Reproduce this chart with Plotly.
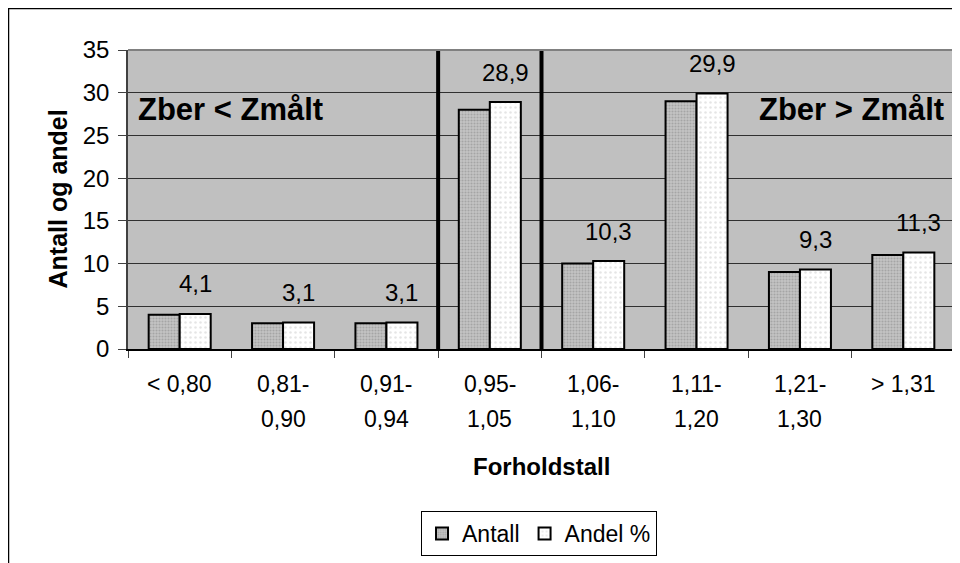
import plotly.graph_objects as go

# Chart data
categories = ["< 0,80", "0,81-1", "0,91-1", "0,95-1", "1,06-1", "1,11-1", "1,21-1", "> 1,31"]
label_line1 = ["< 0,80", "0,81-", "0,91-", "0,95-", "1,06-", "1,11-", "1,21-", "> 1,31"]
label_line2 = ["", "0,90", "0,94", "1,05", "1,10", "1,20", "1,30", ""]
antall = [4, 3, 3, 28, 10, 29, 9, 11]
andel = [4.1, 3.1, 3.1, 28.9, 10.3, 29.9, 9.3, 11.3]
andel_text = ["4,1", "3,1", "3,1", "28,9", "10,3", "29,9", "9,3", "11,3"]
divider_positions = [2.5, 3.5]

FONT = "Liberation Sans, Arial, sans-serif"

fig = go.Figure()

fig.add_trace(go.Bar(
    x=categories, y=antall, name="Antall",
    marker=dict(color="#b4b4b4", line=dict(color="black", width=2),
                pattern=dict(shape=".", fgcolor="#858585", bgcolor="#c4c4c4", size=3, solidity=0.4)),
))
fig.add_trace(go.Bar(
    x=categories, y=andel, name="Andel %",
    marker=dict(color="white", line=dict(color="black", width=2),
                pattern=dict(shape=".", fgcolor="#cccccc", bgcolor="white", size=5, solidity=0.2)),
))

annotations = []
# value labels above the Andel bars
for c, v, t in zip(categories, andel, andel_text):
    annotations.append(dict(x=c, y=v, text=t, showarrow=False, xshift=15.5, yshift=30,
                            yanchor="middle", font=dict(size=24, color="black")))
# two-line category labels
for c, l1, l2 in zip(categories, label_line1, label_line2):
    annotations.append(dict(x=c, y=0, xref="x", yref="paper", text=l1, showarrow=False,
                            yanchor="middle", yshift=-35, font=dict(size=23, color="black")))
    if l2:
        annotations.append(dict(x=c, y=0, xref="x", yref="paper", text=l2, showarrow=False,
                                yanchor="middle", yshift=-70, font=dict(size=23, color="black")))

annotations += [
    dict(x=0.5, y=0, xref="paper", yref="paper", text="<b>Forholdstall</b>", showarrow=False,
         yanchor="middle", yshift=-117, font=dict(size=24, color="black")),
    dict(x=0, y=0.5, xref="paper", yref="paper", text="<b>Antall og andel</b>", showarrow=False,
         textangle=-90, xanchor="center", xshift=-71, font=dict(size=25, color="black")),
    dict(x=0, y=28, xref="paper", yref="y", text="<b>Zber < Zmålt</b>", showarrow=False,
         xanchor="left", xshift=8, yanchor="middle", font=dict(size=31, color="black")),
    dict(x=1, y=28, xref="paper", yref="y", text="<b>Zber > Zmålt</b>", showarrow=False,
         xanchor="right", xshift=-9, yanchor="middle", font=dict(size=31, color="black")),
]

shapes = []
for p in divider_positions:
    shapes.append(dict(type="line", x0=p, x1=p, y0=0, y1=35, xref="x", yref="y",
                       line=dict(color="black", width=4), layer="above"))
# top and right border of plot area
shapes.append(dict(type="line", x0=0, x1=1, y0=1, y1=1, xref="paper", yref="paper",
                   line=dict(color="#808080", width=2)))
shapes.append(dict(type="line", x0=1, x1=1, y0=0, y1=1, xref="paper", yref="paper",
                   line=dict(color="#808080", width=2)))
# outer chart frame (left and top edges visible)
shapes.append(dict(type="rect", x0=-119.5 / 827, x1=1.2, y0=-0.8, y1=1 + 41.5 / 299,
                   xref="paper", yref="paper", line=dict(color="black", width=1.5)))

fig.update_layout(
    width=952, height=555,
    margin=dict(l=120, r=5, t=42, b=214),
    paper_bgcolor="white", plot_bgcolor="#c0c0c0",
    font=dict(family=FONT, size=23, color="black"),
    barmode="group", bargap=0.4, bargroupgap=0,
    showlegend=True,
    legend=dict(orientation="h", x=0.497, xanchor="center", y=-0.542, yanchor="top",
                bordercolor="black", borderwidth=1, bgcolor="white",
                font=dict(size=23), itemwidth=30, tracegroupgap=0),
    annotations=annotations, shapes=shapes,
)
fig.update_xaxes(showticklabels=False, tickson="boundaries", ticks="outside", ticklen=7,
                 tickcolor="#404040", showline=True, linecolor="black", linewidth=1.5,
                 showgrid=False)
fig.update_yaxes(range=[0, 35], dtick=5, ticks="outside", ticklen=8, tickcolor="#404040",
                 showline=True, linecolor="#404040", linewidth=1.5,
                 showgrid=True, gridcolor="#303030", gridwidth=1, zeroline=False,
                 tickfont=dict(size=24), ticklabelstandoff=4)

fig.write_html("out.html")
